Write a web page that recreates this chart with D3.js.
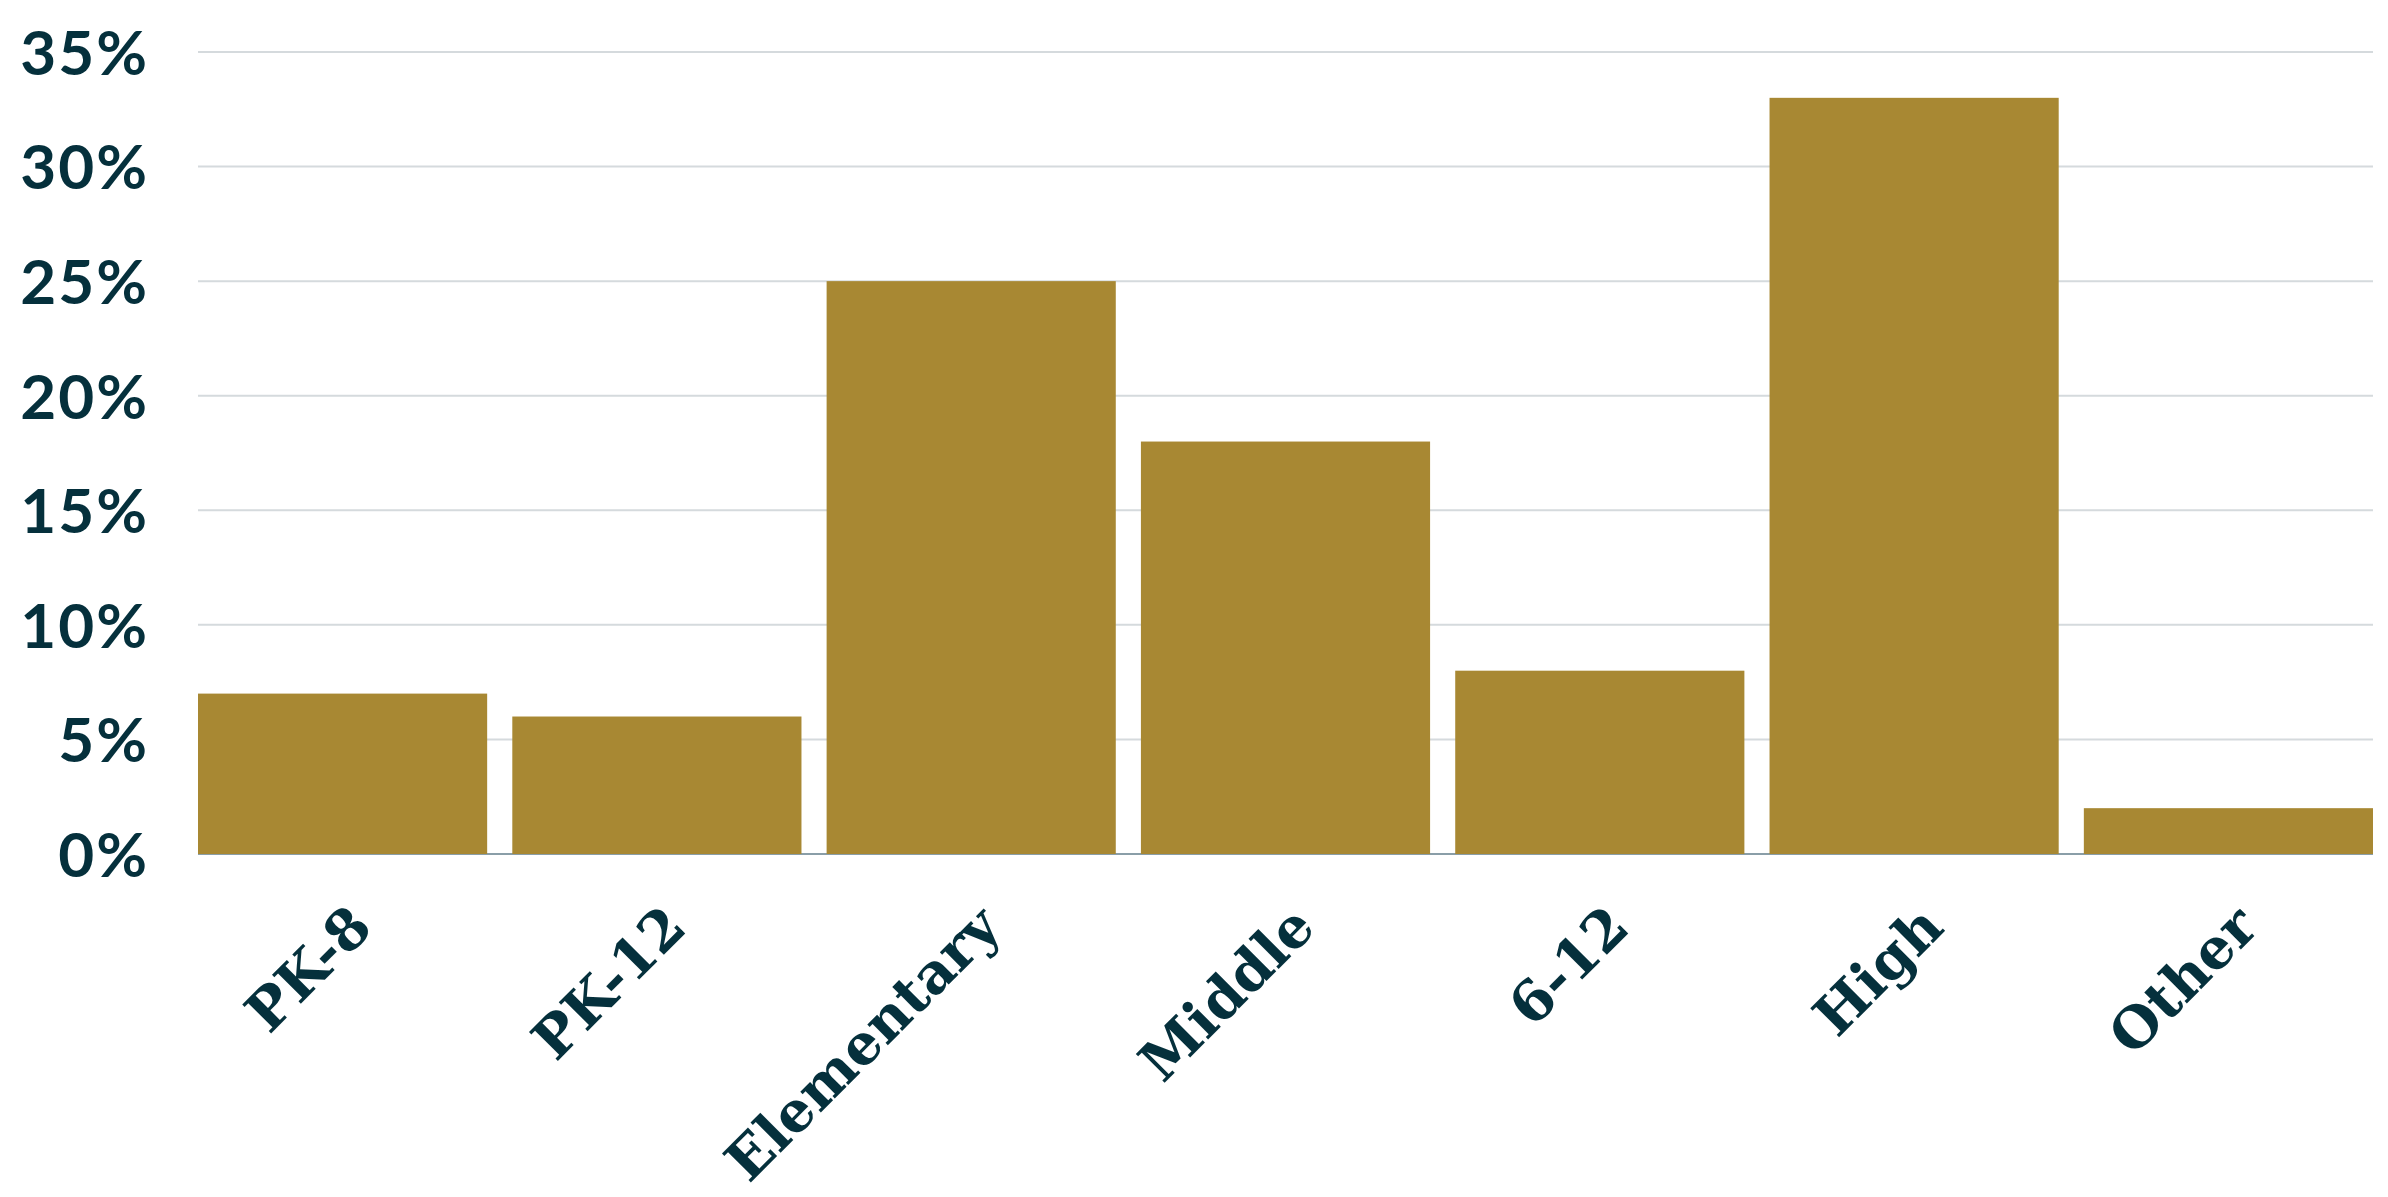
<!DOCTYPE html>
<html>
<head>
<meta charset="utf-8">
<script src="https://cdn.jsdelivr.net/npm/d3@7"></script>
<style>
    body { margin: 0; background: #fff; }
    .y-label { font-family: Lato, "Open Sans", sans-serif; font-weight: 700; }
    .x-label { font-family: "DejaVu Serif", serif; font-weight: 700; }
</style>
</head>
<body>
<div id="chart"></div>
<script>
// chart data
const categories = ["PK-8", "PK-12", "Elementary", "Middle", "6-12", "High", "Other"];
const shares = [7, 6, 25, 18, 8, 33, 2];
const yTicks = [0, 5, 10, 15, 20, 25, 30, 35];

const WIDTH = 2388;
const HEIGHT = 1197;
const margin = { top: 52, right: 15, bottom: 343, left: 198 };

const TEXT_COLOR = "#05303c";
const BAR_COLOR = "#a88833";
const GRID_COLOR = "#d5dadd";
const AXIS_COLOR = "#8a9ea8";

const svg = d3.select("#chart")
    .append("svg")
    .attr("width", WIDTH)
    .attr("height", HEIGHT);

const x = d3.scaleBand()
    .domain(categories)
    .range([margin.left, WIDTH - margin.right])
    .paddingInner(0.08)
    .paddingOuter(0);

const y = d3.scaleLinear()
    .domain([0, 35])
    .range([HEIGHT - margin.bottom, margin.top]);

// gridlines (skip 0, the axis line sits there)
svg.append("g")
    .selectAll("line")
    .data(yTicks.filter(t => t > 0))
    .enter()
    .append("line")
    .attr("x1", margin.left)
    .attr("x2", WIDTH - margin.right)
    .attr("y1", d => y(d))
    .attr("y2", d => y(d))
    .attr("stroke", GRID_COLOR)
    .attr("stroke-width", 2);

// baseline
svg.append("line")
    .attr("x1", margin.left)
    .attr("x2", WIDTH - margin.right)
    .attr("y1", y(0))
    .attr("y2", y(0))
    .attr("stroke", AXIS_COLOR)
    .attr("stroke-width", 2);

// bars
svg.append("g")
    .selectAll("rect")
    .data(categories)
    .enter()
    .append("rect")
    .attr("x", d => x(d))
    .attr("width", x.bandwidth())
    .attr("y", (d, i) => y(shares[i]))
    .attr("height", (d, i) => y(0) - y(shares[i]))
    .attr("fill", BAR_COLOR);

// y axis labels
const yAxis = d3.axisLeft(y)
    .tickValues(yTicks)
    .tickFormat(d => d + "%")
    .tickSize(0)
    .tickPadding(49);

svg.append("g")
    .attr("transform", `translate(${margin.left},0)`)
    .call(yAxis)
    .call(g => g.select(".domain").remove())
    .selectAll("text")
    .attr("class", "y-label")
    .attr("fill", TEXT_COLOR)
    .attr("font-size", 62)
    .attr("letter-spacing", 2)
    .attr("dy", "0.36em");

// x axis labels, rotated
svg.append("g")
    .selectAll("text")
    .data(categories)
    .enter()
    .append("text")
    .attr("class", "x-label")
    .attr("fill", TEXT_COLOR)
    .attr("font-size", 56)
    .attr("text-anchor", "end")
    .attr("transform", d => {
        const cx = x(d) + x.bandwidth() / 2 + 32;
        return `translate(${cx},${y(0) + 76}) rotate(-45)`;
    })
    .text(d => d);
</script>
</body>
</html>
